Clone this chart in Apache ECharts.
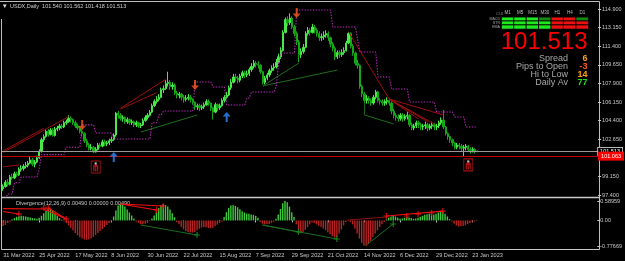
<!DOCTYPE html>
<html><head><meta charset="utf-8">
<script src="https://cdn.jsdelivr.net/npm/echarts@6/dist/echarts.min.js"></script>
<style>html,body{margin:0;padding:0;background:#000;}#c{width:625px;height:261px;}</style>
</head><body><div id="c"></div>
<script>
// ---------- data ----------
const symbolName = 'USDX,Daily';
const lastQuote = ['101.540', '101.562', '101.418', '101.513'];
const indicatorTitle = 'Divergence(12,26,9) 0.00490 0.00000 0.00490';
const dateLabels = ['31 Mar 2022','25 Apr 2022','17 May 2022','8 Jun 2022','30 Jun 2022','22 Jul 2022','15 Aug 2022','7 Sep 2022','29 Sep 2022','21 Oct 2022','14 Nov 2022','6 Dec 2022','29 Dec 2022','23 Jan 2023'];
const barsPerDateLabel = 16;
const totalSlots = 264;
const priceTicks = [97.4, 99.15, 100.9, 102.65, 104.4, 106.15, 107.9, 109.65, 111.4, 113.15, 114.9];
const macdTicks = [0.58959, 0, -0.77669];
const bidPrice = 101.513;
const redLinePrice = 101.063;

// [open, close, low, high]
const candles = [
[98.0,98.2,97.8,98.4],[98.2,98.6,98.1,98.8],[98.6,98.4,98.2,98.9],[98.4,99.1,98.3,99.3],[99.1,99.0,98.8,99.4],
[99.0,99.4,98.9,99.6],[99.4,99.3,99.1,99.6],[99.3,99.8,99.2,100.0],[99.8,99.9,99.6,100.2],[99.9,100.1,99.7,100.3],
[100.1,100.2,99.9,100.5],[100.2,100.4,100.0,100.6],[100.4,100.7,100.3,101.0],[100.7,100.3,100.1,100.9],[100.3,100.5,100.0,100.7],
[100.5,100.9,100.4,101.1],[100.9,101.5,100.8,101.7],[101.5,102.6,101.4,102.8],[102.6,102.9,102.4,103.1],[102.9,103.4,102.8,103.6],
[103.4,103.1,102.9,103.6],[103.1,103.5,103.0,103.7],[103.5,103.0,102.9,103.7],[103.0,103.6,102.9,103.8],[103.6,103.7,103.4,103.9],
[103.7,103.9,103.5,104.1],[103.9,103.8,103.6,104.1],[103.8,104.2,103.7,104.4],[104.2,104.3,104.0,104.5],[104.3,104.6,104.2,104.9],
[104.6,104.5,104.2,104.8],[104.5,104.2,104.0,104.6],[104.2,103.9,103.7,104.4],[103.9,103.7,103.5,104.1],[103.7,103.4,103.2,103.9],
[103.4,103.2,102.9,103.6],[103.2,102.5,102.3,103.3],[102.5,102.1,101.9,102.7],[102.1,101.8,101.6,102.3],[101.8,101.9,101.6,102.2],
[101.9,101.45,101.35,102.0],[101.45,101.7,101.4,101.9],[101.7,102.1,101.6,102.3],[102.1,102.0,101.8,102.3],[102.0,102.4,101.9,102.6],
[102.4,102.2,102.0,102.6],[102.2,102.3,102.0,102.5],[102.3,102.5,102.1,102.7],[102.5,102.6,102.3,102.9],[102.6,103.05,102.5,103.2],
[103.05,105.1,102.9,105.2],[105.1,104.9,104.6,105.3],[104.9,104.6,104.4,105.1],[104.6,104.7,104.3,104.9],[104.7,104.3,104.1,104.8],
[104.3,104.5,104.1,104.7],[104.5,104.2,104.0,104.6],[104.2,104.3,104.0,104.5],[104.3,104.0,103.8,104.4],[104.0,104.2,103.8,104.4],
[104.2,103.9,103.7,104.3],[103.9,104.0,103.7,104.2],[104.0,104.4,103.9,104.6],[104.4,104.7,104.3,104.9],[104.7,104.9,104.5,105.1],
[104.9,105.2,104.8,105.4],[105.2,105.8,105.1,106.0],[105.8,106.2,105.7,106.4],[106.2,106.4,106.0,106.7],[106.4,106.6,106.2,106.9],
[106.6,107.3,106.5,107.5],[107.3,107.4,107.0,107.7],[107.4,107.9,107.3,108.2],[107.9,108.0,107.6,109.0],[108.0,107.6,107.3,108.2],
[107.6,107.75,107.3,108.0],[107.75,107.0,106.8,107.9],[107.0,106.8,106.5,107.2],[106.8,106.9,106.5,107.1],[106.9,106.6,106.3,107.0],
[106.6,106.4,106.1,106.8],[106.4,106.5,106.2,106.8],[106.5,106.6,106.3,106.9],[106.6,106.4,106.1,106.8],[106.4,106.15,105.9,106.5],
[106.15,105.7,105.4,106.2],[105.7,105.8,105.4,106.0],[105.8,105.6,105.3,106.0],[105.6,105.7,105.4,105.9],[105.7,105.9,105.5,106.1],
[105.9,106.2,105.8,106.4],[106.2,106.05,105.8,106.4],[106.05,105.6,105.3,106.1],[105.6,105.2,104.5,105.7],[105.2,105.9,105.1,106.1],
[105.9,105.6,105.3,106.0],[105.6,105.8,105.4,106.0],[105.8,106.3,105.7,106.5],[106.3,106.6,106.1,106.8],[106.6,106.8,106.4,107.1],
[106.8,107.5,106.7,107.7],[107.5,108.0,107.3,108.3],[108.0,108.5,107.9,108.8],[108.5,108.4,108.1,108.8],[108.4,108.2,107.9,108.6],
[108.2,108.6,108.0,108.8],[108.6,108.9,108.4,109.1],[108.9,108.7,108.4,109.1],[108.7,108.8,108.5,109.1],[108.8,109.2,108.6,109.4],
[109.2,109.5,109.0,109.8],[109.5,109.8,109.3,110.1],[109.8,109.7,109.4,110.0],[109.7,109.6,109.3,110.0],[109.6,109.0,108.8,109.7],
[109.0,108.0,107.8,109.1],[108.0,108.4,107.8,108.6],[108.4,108.7,108.2,108.9],[108.7,109.1,108.5,109.3],[109.1,109.35,108.9,109.6],
[109.35,109.45,109.1,109.8],[109.45,109.9,109.3,110.2],[109.9,110.4,109.8,110.7],[110.4,111.0,110.2,111.3],[111.0,112.7,110.9,112.9],
[112.7,113.9,112.6,114.1],[113.9,113.6,113.3,114.2],[113.6,114.05,113.4,114.5],[114.05,113.2,113.0,114.2],[113.2,112.6,112.3,113.4],
[112.6,111.8,111.5,112.8],[111.8,110.6,109.9,112.0],[110.6,110.9,110.3,111.2],[110.9,111.3,110.7,111.6],[111.3,112.6,111.2,112.8],
[112.6,112.9,112.4,113.2],[112.9,112.7,112.4,113.1],[112.7,113.2,112.6,113.5],[113.2,112.9,112.6,113.4],[112.9,112.6,112.3,113.1],
[112.6,112.2,111.9,112.8],[112.2,112.3,111.9,112.6],[112.3,112.45,112.0,112.8],[112.45,112.6,112.2,112.9],[112.6,112.2,111.9,112.8],
[112.2,111.6,111.3,112.3],[111.6,111.2,110.9,111.8],[111.2,110.4,110.1,111.4],[110.4,110.8,110.2,111.0],[110.8,110.6,110.3,111.0],
[110.6,110.8,110.4,111.1],[110.8,111.0,110.6,111.3],[111.0,111.7,110.9,111.9],[111.7,112.6,111.6,112.75],[112.6,111.4,111.2,112.7],
[111.4,110.75,110.5,111.6],[110.75,109.8,109.6,110.9],[109.8,109.6,109.3,110.1],[109.6,107.6,107.4,109.7],[107.6,106.9,106.6,107.8],
[106.9,106.3,106.0,107.1],[106.3,106.5,106.0,106.8],[106.5,106.3,106.0,106.7],[106.3,106.05,105.8,106.5],[106.05,106.6,105.9,106.8],
[106.6,107.1,106.4,107.3],[107.1,106.3,106.1,107.2],[106.3,106.2,105.9,106.5],[106.2,106.05,105.8,106.4],[106.05,106.2,105.8,106.4],
[106.2,106.3,105.9,106.6],[106.3,106.05,105.8,106.5],[106.05,105.3,105.0,106.2],[105.3,104.9,104.6,105.5],[104.9,104.7,104.4,105.1],
[104.7,104.6,104.3,105.0],[104.6,104.9,104.4,105.1],[104.9,104.6,104.3,105.1],[104.6,104.8,104.4,105.0],[104.8,104.9,104.5,105.2],
[104.9,104.0,103.8,105.0],[104.0,103.7,103.5,104.2],[103.7,103.9,103.5,104.1],[103.9,104.2,103.7,104.4],[104.2,104.0,103.7,104.4],
[104.0,103.8,103.5,104.2],[103.8,103.9,103.5,104.1],[103.9,104.0,103.6,104.3],[104.0,103.7,103.4,104.2],[103.7,103.9,103.5,104.1],
[103.9,104.0,103.6,104.3],[104.0,103.8,103.5,104.2],[103.8,103.9,103.5,104.1],[103.9,104.2,103.7,104.4],[104.2,104.45,104.0,104.7],
[104.45,103.8,103.6,105.4],[103.8,103.2,103.0,103.9],[103.2,102.9,102.6,103.3],[102.9,102.6,102.3,103.0],[102.6,102.3,102.0,102.7],
[102.3,101.9,101.7,102.4],[101.9,102.1,101.7,102.3],[102.1,102.0,101.7,102.3],[102.0,101.8,101.5,102.2],[101.8,101.9,101.0,102.1],
[101.9,102.0,101.6,102.2],[102.0,101.7,101.5,102.1],[101.7,101.6,101.3,101.9],[101.6,101.7,101.4,101.9],[101.7,101.5,101.3,101.8],
[101.54,101.513,101.418,101.562]
];

// trailing stop: [fromBar, toBar, level]
const stopRuns = [
[0,1,97.0],[2,4,97.5],[5,7,98.55],[8,15,99.1],[16,16,99.9],[17,27,101.2],[28,34,101.9],[35,40,104.0],[41,48,103.23],
[49,65,102.67],[66,68,104.2],[69,70,104.95],[71,84,105.3],[85,92,108.03],[93,98,107.56],[99,107,105.87],[108,109,106.53],
[110,120,107.09],[121,121,107.75],[122,122,109.8],[123,129,110.76],[130,145,114.81],[146,156,113.21],[157,157,112.0],
[158,165,110.85],[166,171,108.5],[172,179,107.37],[180,191,106.15],[192,199,105.21],[200,204,104.74],[205,210,103.8]
];

const macdHist = [
-0.17,-0.14,-0.08,-0.03,
0.03,0.07,0.11,0.13,0.14,0.13,0.12,0.10,0.09,0.07,0.06,0.05,
0.08,0.14,0.22,0.30,0.36,0.35,0.30,0.22,0.14,0.07,0.02,
-0.03,-0.08,-0.15,-0.22,-0.30,-0.38,-0.45,-0.51,-0.55,-0.58,-0.59,-0.58,-0.55,-0.50,-0.44,-0.38,-0.32,-0.26,-0.20,-0.14,-0.08,-0.03,
0.12,0.30,0.45,0.52,0.50,0.42,0.33,0.24,0.15,0.06,
-0.04,-0.08,-0.11,-0.12,-0.10,-0.06,-0.02,
0.06,0.15,0.27,0.38,0.45,0.49,0.47,0.42,0.33,0.22,0.10,
-0.05,-0.12,-0.20,-0.27,-0.32,-0.35,-0.37,-0.37,-0.35,-0.30,-0.25,-0.22,-0.20,-0.21,-0.23,-0.24,-0.22,-0.18,-0.13,-0.08,-0.03,
0.10,0.25,0.38,0.45,0.46,0.44,0.40,0.34,0.28,0.24,0.21,0.20,0.18,0.17,0.14,0.08,
-0.05,-0.10,-0.12,-0.12,-0.11,-0.08,-0.04,
0.05,0.18,0.35,0.52,0.58959,0.55,0.42,0.25,0.10,
-0.12,-0.28,-0.37,-0.35,-0.28,-0.20,-0.12,-0.06,
-0.08,-0.12,-0.16,-0.20,-0.25,-0.30,-0.36,-0.42,-0.48,-0.52,-0.50,-0.40,-0.28,-0.15,-0.05,
-0.02,-0.05,-0.12,-0.25,-0.40,-0.55,-0.68,-0.76,-0.77669,-0.72,-0.62,-0.50,-0.40,-0.30,-0.20,-0.12,-0.05,
0.03,0.08,0.12,0.15,0.12,0.08,0.05,0.06,0.08,0.10,0.09,0.07,0.05,0.06,0.08,0.11,0.14,0.17,0.19,0.20,0.19,0.18,0.20,0.24,0.27,0.26,0.20,0.12,0.04,
-0.03,-0.10,-0.15,-0.18,-0.18,-0.17,-0.14,-0.11,-0.08,-0.05,-0.03,0.01
];

const sellArrows = [[35,103.98],[85,107.75],[130,114.52]];
const buyArrows = [[49,100.98],[99,104.74]];
const boxMarks = [[41,100.04],[206,100.23]];

const mainRedLines = [
[[0,101.55],[18,103.68]],[[0,101.40],[29,104.77]],[[0,100.06],[7,100.22]],
[[52,105.56],[72,108.29]],[[52,105.49],[68,107.03]],[[153,112.74],[171,106.43]],
[[171,106.43],[195,104.93]],[[171,106.43],[191,104.08]],[[171,106.43],[188,104.30]],[[171,106.43],[184,104.55]]
];
const mainGreenLines = [
[[61,103.33],[86,104.93]],[[115,107.66],[131,109.82]],[[115,107.66],[148,109.16]],[[160,105.96],[160,104.93],[173,104.08]]
];
const macdRedLines = [
[[0,0.36],[18,0.346]],[[0,0.27],[7,0.194]],[[18,0.346],[28,0.042]],[[20,0.376],[28,0.042]],
[[52,0.498],[71,0.437]],[[52,0.498],[68,0.316]],[[170,0.134],[195,0.285]]
];
const macdDarkRedLines = [[[153,0.012],[170,0.103]]];
const macdRedPlus = [[7,0.194],[18,0.376],[20,0.376],[28,0.042],[68,0.316],[71,0.437],[170,0.134],[179,0.134],[184,0.194],[190,0.225],[195,0.285]];
const macdGreenLines = [
[[61,-0.14],[86,-0.443]],[[115,-0.14],[131,-0.352]],[[115,-0.14],[148,-0.565]],[[161,-0.75],[173,-0.109]]
];
const macdGreenPlus = [[86,-0.443],[131,-0.352],[148,-0.565],[173,-0.109]];

const timeframes = ['M1','M5','M15','M30','H1','H4','D1'];
const signalRows = ['MACD','STR','EMA'];
// per timeframe: [MACD, STR, EMA]; 1 = up, 2 = weak up, 3 = down
const signals = [[1,1,1],[1,1,1],[1,1,1],[2,1,1],[3,3,3],[3,3,3],[2,3,3]];
const bigPrice = '101.513';
const infoLabels = ['Spread','Pips to Open','Hi to Low','Daily Av'];
const infoValues = ['6','-3','14','77'];
const infoColors = ['#f2a030','#ff5a1a','#ffa010','#22e022'];

// ---------- build ----------
const FONT = 'Liberation Sans, Arial, sans-serif';
const cats = Array.from({length: totalSlots}, (_, i) => String(i));
const stopLine = [];
stopRuns.forEach(([a, b, v]) => { for (let i = a; i <= b; i++) stopLine[i] = v; });
const heatData = [];
signals.forEach((col, x) => col.forEach((s, y) => heatData.push([x, y, s])));

const showDate = (idx) => idx % barsPerDateLabel === 0 && idx / barsPerDateLabel < dateLabels.length;
const arrowDown = 'path://M3,0 L5,0 L5,5 L8,5 L4,9 L0,5 L3,5 Z';
const arrowUp = 'path://M4,0 L8,4 L5,4 L5,9 L3,9 L3,4 L0,4 Z';
const plusPath = 'path://M2,0 L3,0 L3,2 L5,2 L5,3 L3,3 L3,5 L2,5 L2,3 L0,3 L0,2 L2,2 Z';
const towerPath = 'path://M0,10 L0,3 Q0,1 2,1 L6,1 Q8,1 8,3 L8,10 L6,10 L6,4 L5,4 L5,10 L3,10 L3,4 L2,4 L2,10 Z';

function linesSeries(arr, color, xi, yi, w) {
  return { type: 'lines', coordinateSystem: 'cartesian2d', xAxisIndex: xi, yAxisIndex: yi, polyline: true, silent: true,
    data: arr.map(c => ({ coords: c })), lineStyle: { color: color, width: w || 1, opacity: 1 }, z: 3 };
}

const gray = '#c8c8c8';
const option = {
  backgroundColor: '#000',
  animation: false,
  grid: [
    { left: 2, right: 26, top: 3, height: 194 },
    { left: 2, right: 26, top: 201, height: 48 },
    { left: 501.5, top: 17.2, width: 87, height: 11.8 }
  ],
  xAxis: [
    { type: 'category', data: cats, gridIndex: 0, show: false, boundaryGap: true },
    { type: 'category', data: cats, gridIndex: 1, boundaryGap: true,
      axisLine: { show: false },
      axisTick: { show: true, interval: (i) => showDate(i), alignWithLabel: true, length: 2, lineStyle: { color: gray } },
      axisLabel: { interval: (i) => showDate(i), formatter: (v, i) => dateLabels[i / barsPerDateLabel] || '',
        align: 'left', color: gray, fontSize: 5.6, fontFamily: FONT, margin: 3.5 } },
    { type: 'category', data: timeframes, gridIndex: 2, position: 'top',
      axisLine: { show: false }, axisTick: { show: false },
      axisLabel: { color: '#bdbdbd', fontSize: 4.5, fontFamily: FONT, margin: 1.5, interval: 0 } }
  ],
  yAxis: [
    { type: 'value', gridIndex: 0, position: 'right', min: 97.215, max: 115.464, splitLine: { show: false },
      axisLine: { show: false },
      axisTick: { show: true, customValues: priceTicks, length: 3, lineStyle: { color: gray } },
      axisLabel: { customValues: priceTicks, formatter: (v) => v.toFixed(3), color: gray, fontSize: 5.5, fontFamily: FONT, margin: 4 } },
    { type: 'value', gridIndex: 1, position: 'right', min: -0.868, max: 0.58959, splitLine: { show: false },
      axisLine: { show: false },
      axisTick: { show: true, customValues: macdTicks, length: 3, lineStyle: { color: gray } },
      axisLabel: { customValues: macdTicks, formatter: (v) => v === 0 ? '0.00' : v.toFixed(5), color: gray, fontSize: 5.5, fontFamily: FONT, margin: 3 } },
    { type: 'category', data: signalRows, gridIndex: 2, inverse: true,
      axisLine: { show: false }, axisTick: { show: false },
      axisLabel: { color: '#a8a8a8', fontSize: 3.6, fontFamily: FONT, margin: 1.5, interval: 0 } }
  ],
  visualMap: [{ type: 'piecewise', show: false, seriesIndex: 0, dimension: 2,
    pieces: [{ value: 1, color: '#1fe81f' }, { value: 2, color: '#148a14' }, { value: 3, color: '#ec1010' }] }],
  series: [
    { type: 'heatmap', xAxisIndex: 2, yAxisIndex: 2, data: heatData, silent: true,
      itemStyle: { borderColor: '#000', borderWidth: 1 } },
    { type: 'candlestick', xAxisIndex: 0, yAxisIndex: 0, data: candles, barWidth: 1.8, silent: true,
      itemStyle: { color: '#4ae84a', color0: '#16a616', borderColor: '#4ae84a', borderColor0: '#16a616', borderWidth: 1 },
      markLine: { symbol: 'none', silent: true, animation: false, data: [
        { yAxis: bidPrice, lineStyle: { color: '#9a9a9a', width: 1, type: 'solid' },
          label: { show: true, position: 'end', formatter: bidPrice.toFixed(3), color: '#fff', backgroundColor: '#000',
            borderColor: '#d8d8d8', borderWidth: 0.8, padding: [1, 2, 0, 2], fontSize: 5.5, fontFamily: FONT, distance: 0 } },
        { yAxis: redLinePrice, lineStyle: { color: '#c00000', width: 1, type: 'solid' },
          label: { show: true, position: 'end', formatter: redLinePrice.toFixed(3), color: '#fff', backgroundColor: '#ff0000',
            padding: [2, 3, 1, 3], fontSize: 5.5, fontFamily: FONT, distance: 0 } }
      ] } },
    { type: 'line', xAxisIndex: 0, yAxisIndex: 0, data: stopLine, symbol: 'none', silent: true, z: 4,
      lineStyle: { color: '#b828b8', width: 1.1, type: [1.4, 1.4] } },
    linesSeries(mainRedLines, '#9e0e0e', 0, 0),
    linesSeries(mainGreenLines, '#1c6e1c', 0, 0),
    { type: 'scatter', xAxisIndex: 0, yAxisIndex: 0, data: sellArrows, symbol: arrowDown, symbolSize: [8, 10], silent: true,
      itemStyle: { color: '#ff5a1e' }, z: 6 },
    { type: 'scatter', xAxisIndex: 0, yAxisIndex: 0, data: buyArrows, symbol: arrowUp, symbolSize: [8, 10], silent: true,
      itemStyle: { color: '#2a8cff' }, z: 6 },
    { type: 'scatter', xAxisIndex: 0, yAxisIndex: 0, data: boxMarks, symbol: 'rect', symbolSize: [9, 12], silent: true,
      itemStyle: { color: '#000', borderColor: '#c81818', borderWidth: 1 }, z: 6 },
    { type: 'scatter', xAxisIndex: 0, yAxisIndex: 0, data: boxMarks, symbol: towerPath, symbolSize: [5, 7], symbolOffset: [0, 1], silent: true,
      itemStyle: { color: '#d01818' }, z: 7 },
    { type: 'scatter', xAxisIndex: 0, yAxisIndex: 0, data: boxMarks, symbol: 'rect', symbolSize: [2, 2], symbolOffset: [0, -3.5], silent: true,
      itemStyle: { color: '#ffffff' }, z: 8 },
    { type: 'bar', xAxisIndex: 1, yAxisIndex: 1, data: macdHist, barWidth: 1.4, silent: true,
      itemStyle: { color: (p) => p.value >= 0 ? '#3ccc3c' : '#b82222' } },
    linesSeries(macdRedLines, '#f01010', 1, 1, 1.2),
    linesSeries(macdDarkRedLines, '#8e1010', 1, 1, 1),
    linesSeries(macdGreenLines, '#1c6e1c', 1, 1, 1),
    { type: 'scatter', xAxisIndex: 1, yAxisIndex: 1, data: macdRedPlus, symbol: plusPath, symbolSize: 6, silent: true,
      itemStyle: { color: '#ff1010' }, z: 6 },
    { type: 'scatter', xAxisIndex: 1, yAxisIndex: 1, data: macdGreenPlus, symbol: plusPath, symbolSize: 6, silent: true,
      itemStyle: { color: '#1f9a1f' }, z: 6 }
  ],
  graphic: [
    { type: 'line', shape: { x1: 0, y1: 1.5, x2: 599.5, y2: 1.5 }, style: { stroke: '#bdbdbd', lineWidth: 1 }, silent: true },
    { type: 'line', shape: { x1: 1.5, y1: 19, x2: 1.5, y2: 249.5 }, style: { stroke: '#bdbdbd', lineWidth: 1 }, silent: true },
    { type: 'line', shape: { x1: 599.5, y1: 1.5, x2: 599.5, y2: 249.5 }, style: { stroke: '#bdbdbd', lineWidth: 1 }, silent: true },
    { type: 'line', shape: { x1: 1.5, y1: 197.5, x2: 599.5, y2: 197.5 }, style: { stroke: '#c8c8c8', lineWidth: 1.5 }, silent: true },
    { type: 'line', shape: { x1: 1.5, y1: 249.5, x2: 599.5, y2: 249.5 }, style: { stroke: '#c8c8c8', lineWidth: 1 }, silent: true },
    { type: 'text', x: 3, y: 6, silent: true, style: { text: '▾', fill: '#e0e0e0', font: '7px ' + FONT, textVerticalAlign: 'middle' } },
    { type: 'text', x: 10, y: 6, silent: true, style: { text: symbolName + '  ' + lastQuote.join(' '), fill: '#d0d0d0', font: '5.5px ' + FONT, textVerticalAlign: 'middle' } },
    { type: 'text', x: 16, y: 203.5, silent: true, style: { text: indicatorTitle, fill: '#c8c8c8', font: '5.5px ' + FONT, textVerticalAlign: 'middle' } },
    { type: 'text', x: 496, y: 14, silent: true, style: { text: 'CUI', fill: '#8a8a8a', font: '4px ' + FONT, textVerticalAlign: 'middle' } },
    { type: 'text', x: 587.5, y: 42.5, silent: true, style: { text: bigPrice, fill: '#ff0000', font: '24px ' + FONT, textAlign: 'right', textVerticalAlign: 'middle' } }
  ].concat(infoLabels.map((t, k) => ({ type: 'text', x: 568, y: [58.5, 66.5, 74.5, 83][k], silent: true,
      style: { text: t, fill: '#a8a8a8', font: '9px ' + FONT, textAlign: 'right', textVerticalAlign: 'middle' } })))
    .concat(infoValues.map((t, k) => ({ type: 'text', x: 587.5, y: [58.5, 66.5, 74.5, 83][k], silent: true,
      style: { text: t, fill: infoColors[k], font: 'bold 9px ' + FONT, textAlign: 'right', textVerticalAlign: 'middle' } })))
};

const chart = echarts.init(document.getElementById('c'), null, { renderer: 'canvas' });
chart.setOption(option);
</script>
</body></html>
